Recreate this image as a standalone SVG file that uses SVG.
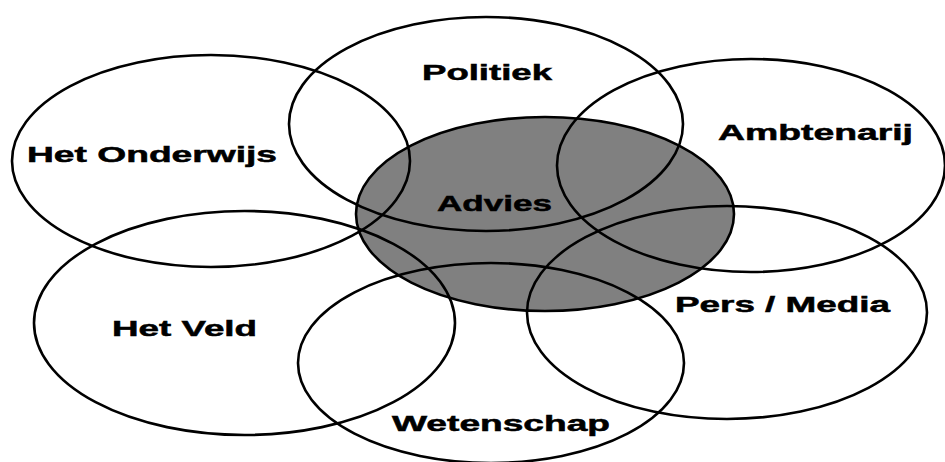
<svg xmlns="http://www.w3.org/2000/svg" width="945" height="462" viewBox="0 0 945 462">
<style>
.c{fill:none;stroke:#000;stroke-width:2.6}
.core{fill:#808080;stroke:#000;stroke-width:2.6}
.t{font-family:"Liberation Sans",Arial,sans-serif;font-weight:bold;font-size:22px;fill:#000;stroke:#000;stroke-width:0.5}
</style>
<rect width="945" height="462" fill="#fff"/>
<g id="advies">
<ellipse class="core" cx="545" cy="214" rx="189" ry="97"/>
<text class="t" x="437" y="211" textLength="115" lengthAdjust="spacingAndGlyphs">Advies</text>
</g>
<g id="onderwijs">
<ellipse class="c" cx="211" cy="161" rx="199" ry="106"/>
<text class="t" x="27" y="162" textLength="250" lengthAdjust="spacingAndGlyphs">Het Onderwijs</text>
</g>
<g id="politiek">
<ellipse class="c" cx="486" cy="124" rx="197" ry="107"/>
<text class="t" x="422" y="80" textLength="130" lengthAdjust="spacingAndGlyphs">Politiek</text>
</g>
<g id="ambtenarij">
<ellipse class="c" cx="751" cy="165.5" rx="194" ry="106.5"/>
<text class="t" x="718" y="140" textLength="195" lengthAdjust="spacingAndGlyphs">Ambtenarij</text>
</g>
<g id="veld">
<ellipse class="c" cx="244.5" cy="323" rx="210.5" ry="112"/>
<text class="t" x="112" y="336" textLength="145" lengthAdjust="spacingAndGlyphs">Het Veld</text>
</g>
<g id="wetenschap">
<ellipse class="c" cx="491" cy="363" rx="193" ry="100"/>
<text class="t" x="392" y="431" textLength="218" lengthAdjust="spacingAndGlyphs">Wetenschap</text>
</g>
<g id="pers">
<ellipse class="c" cx="727" cy="312.5" rx="200" ry="106.5"/>
<text class="t" x="675" y="312" textLength="215" lengthAdjust="spacingAndGlyphs">Pers / Media</text>
</g>
<g id="connectors"></g>
</svg>
